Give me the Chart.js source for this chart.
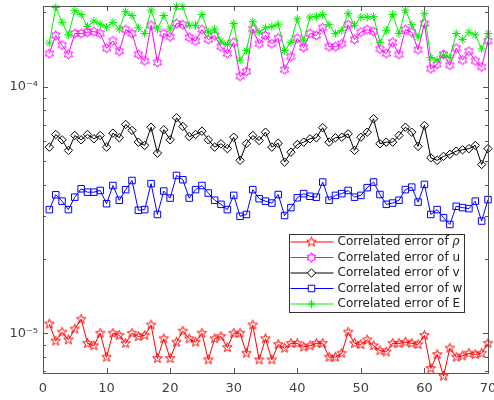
<!DOCTYPE html>
<html>
<head>
<meta charset="utf-8">
<script src="https://cdn.jsdelivr.net/npm/chart.js"></script>
<style>
  html, body { margin: 0; padding: 0; background: #fff; }
  #wrap { width: 494px; height: 400px; }
</style>
</head>
<body>
<div id="wrap"><canvas id="chart" width="494" height="400"></canvas></div>
<script>
// Datos (iteraciones 1..70, escala logarítmica).
const iterations = [1,2,3,4,5,6,7,8,9,10,11,12,13,14,15,16,17,18,19,20,21,22,23,24,25,26,27,28,29,30,
  31,32,33,34,35,36,37,38,39,40,41,42,43,44,45,46,47,48,49,50,51,52,53,54,55,56,57,58,59,60,
  61,62,63,64,65,66,67,68,69,70];

const errRho = [
  1.09e-5, 9.3e-6, 1.01e-5, 9.4e-6, 1.04e-5, 1.14e-5, 9.1e-6, 8.9e-6, 1.00e-5, 8.0e-6,
  1.00e-5, 9.8e-6, 9.1e-6, 1.00e-5, 9.7e-6, 9.8e-6, 1.08e-5, 7.9e-6, 9.5e-6, 7.9e-6,
  9.2e-6, 1.02e-5, 9.5e-6, 9.2e-6, 1.00e-5, 7.8e-6, 9.5e-6, 9.7e-6, 8.75e-6, 1.00e-5,
  1.00e-5, 8.3e-6, 1.08e-5, 7.8e-6, 9.5e-6, 7.8e-6, 9.0e-6, 8.7e-6, 9.1e-6, 9.1e-6,
  8.8e-6, 8.9e-6, 9.1e-6, 9.1e-6, 8.0e-6, 8.0e-6, 8.3e-6, 1.01e-5, 9.1e-6, 9.0e-6,
  9.4e-6, 8.9e-6, 8.5e-6, 8.4e-6, 9.1e-6, 9.1e-6, 9.2e-6, 9.1e-6, 9.0e-6, 9.8e-6,
  7.2e-6, 8.2e-6, 6.7e-6, 8.7e-6, 8.0e-6, 8.1e-6, 8.3e-6, 8.2e-6, 8.3e-6, 9.1e-6
];
const errU = [
  1.36e-4, 1.61e-4, 1.47e-4, 1.35e-4, 1.64e-4, 1.64e-4, 1.66e-4, 1.67e-4, 1.64e-4, 1.43e-4,
  1.53e-4, 1.39e-4, 1.70e-4, 1.64e-4, 1.35e-4, 1.27e-4, 1.77e-4, 1.25e-4, 1.64e-4, 1.59e-4,
  1.80e-4, 1.78e-4, 1.58e-4, 1.53e-4, 1.70e-4, 1.55e-4, 1.61e-4, 1.45e-4, 1.36e-4, 1.51e-4,
  1.10e-4, 1.15e-4, 1.71e-4, 1.49e-4, 1.61e-4, 1.49e-4, 1.57e-4, 1.17e-4, 1.32e-4, 1.57e-4,
  1.44e-4, 1.64e-4, 1.61e-4, 1.73e-4, 1.45e-4, 1.45e-4, 1.49e-4, 1.78e-4, 1.55e-4, 1.66e-4,
  1.70e-4, 1.67e-4, 1.42e-4, 1.36e-4, 1.51e-4, 1.35e-4, 1.70e-4, 1.66e-4, 1.41e-4, 1.80e-4,
  1.18e-4, 1.23e-4, 1.35e-4, 1.22e-4, 1.43e-4, 1.28e-4, 1.39e-4, 1.27e-4, 1.20e-4, 1.53e-4
];
const errV = [
  5.68e-5, 6.39e-5, 6.08e-5, 5.51e-5, 6.33e-5, 6.08e-5, 6.39e-5, 6.14e-5, 6.33e-5, 5.68e-5,
  6.47e-5, 6.20e-5, 7.02e-5, 6.64e-5, 5.95e-5, 5.77e-5, 6.84e-5, 5.37e-5, 6.68e-5, 6.08e-5,
  7.47e-5, 6.89e-5, 6.27e-5, 6.39e-5, 6.59e-5, 6.08e-5, 5.68e-5, 5.86e-5, 5.60e-5, 6.23e-5,
  5.02e-5, 5.87e-5, 6.33e-5, 6.04e-5, 6.53e-5, 5.68e-5, 5.89e-5, 4.94e-5, 5.42e-5, 5.82e-5,
  5.95e-5, 6.14e-5, 6.20e-5, 6.81e-5, 5.95e-5, 6.20e-5, 6.23e-5, 6.43e-5, 5.51e-5, 6.23e-5,
  6.53e-5, 7.40e-5, 5.86e-5, 5.95e-5, 5.95e-5, 6.33e-5, 6.84e-5, 6.53e-5, 5.72e-5, 6.95e-5,
  5.14e-5, 5.02e-5, 5.21e-5, 5.31e-5, 5.47e-5, 5.54e-5, 5.60e-5, 5.77e-5, 4.83e-5, 5.60e-5
];
const errW = [
  3.17e-5, 3.64e-5, 3.43e-5, 3.17e-5, 3.56e-5, 3.85e-5, 3.73e-5, 3.73e-5, 3.79e-5, 3.35e-5,
  3.97e-5, 3.46e-5, 3.82e-5, 4.16e-5, 3.15e-5, 3.17e-5, 4.04e-5, 3.03e-5, 3.77e-5, 3.53e-5,
  4.36e-5, 4.19e-5, 3.53e-5, 3.82e-5, 3.97e-5, 3.70e-5, 3.46e-5, 3.33e-5, 3.17e-5, 3.62e-5,
  2.98e-5, 3.03e-5, 3.82e-5, 3.51e-5, 3.43e-5, 3.37e-5, 3.65e-5, 3.00e-5, 3.23e-5, 3.54e-5,
  3.68e-5, 3.59e-5, 3.56e-5, 4.10e-5, 3.46e-5, 3.62e-5, 3.68e-5, 3.79e-5, 3.56e-5, 3.62e-5,
  3.89e-5, 4.10e-5, 3.65e-5, 3.33e-5, 3.37e-5, 3.46e-5, 3.82e-5, 3.91e-5, 3.40e-5, 4.01e-5,
  3.03e-5, 3.17e-5, 2.94e-5, 2.76e-5, 3.27e-5, 3.23e-5, 3.20e-5, 3.43e-5, 2.85e-5, 3.48e-5
];
const errE = [
  1.50e-4, 2.09e-4, 1.82e-4, 1.62e-4, 2.03e-4, 1.96e-4, 1.75e-4, 1.84e-4, 1.79e-4, 1.74e-4,
  1.82e-4, 1.71e-4, 2.01e-4, 1.94e-4, 1.73e-4, 1.64e-4, 2.04e-4, 1.71e-4, 1.94e-4, 1.71e-4,
  2.11e-4, 2.11e-4, 1.77e-4, 1.77e-4, 1.96e-4, 1.66e-4, 1.71e-4, 1.53e-4, 1.48e-4, 1.80e-4,
  1.28e-4, 1.40e-4, 1.83e-4, 1.66e-4, 1.73e-4, 1.75e-4, 1.79e-4, 1.40e-4, 1.51e-4, 1.88e-4,
  1.53e-4, 1.91e-4, 1.92e-4, 1.96e-4, 1.78e-4, 1.64e-4, 1.69e-4, 1.98e-4, 1.77e-4, 1.91e-4,
  1.91e-4, 1.92e-4, 1.51e-4, 1.69e-4, 1.96e-4, 1.64e-4, 2.04e-4, 1.78e-4, 1.59e-4, 1.98e-4,
  1.31e-4, 1.28e-4, 1.34e-4, 1.31e-4, 1.64e-4, 1.55e-4, 1.66e-4, 1.62e-4, 1.42e-4, 1.64e-4
];

const xTicks = [0, 10, 20, 30, 40, 50, 60, 70];
const yTicks = [7e-6, 8e-6, 9e-6, 1e-5, 2e-5, 3e-5, 4e-5, 5e-5, 6e-5, 7e-5, 8e-5, 9e-5, 1e-4, 2e-4];
const yMajorTicks = [1e-5, 1e-4];
const yTickLabels = ['10\u207B\u2075', '10\u207B\u2074'];
const seriesLabels = ['Correlated error of ', 'Correlated error of u', 'Correlated error of v',
  'Correlated error of w', 'Correlated error of E'];

// Marcadores tipo estrella (pentagrama / hexagrama) dibujados en un canvas pequeño.
function makeStar(points, outer, inner, color) {
  const size = 2 * Math.ceil(outer) + 3;
  const c = document.createElement('canvas');
  c.width = size; c.height = size;
  const g = c.getContext('2d');
  g.strokeStyle = color;
  g.lineWidth = 1;
  g.beginPath();
  for (let k = 0; k < points * 2; k++) {
    const r = k % 2 === 0 ? outer : inner;
    const a = -Math.PI / 2 + k * Math.PI / points;
    const px = size / 2 + r * Math.cos(a);
    const py = size / 2 + r * Math.sin(a);
    if (k === 0) g.moveTo(px, py); else g.lineTo(px, py);
  }
  g.closePath();
  g.stroke();
  return c;
}
const pentagram = makeStar(5, 5, 2.1, '#ff0000');
const hexagram = makeStar(6, 4.8, 2.8, '#ff00ff');

function toPoints(values) {
  return values.map((v, k) => ({ x: iterations[k], y: v }));
}

function series(label, values, color, style, radius, order) {
  return {
    label: label,
    data: toPoints(values),
    borderColor: color,
    borderWidth: 1,
    pointStyle: style,
    pointRadius: radius,
    pointBorderColor: color,
    pointBackgroundColor: 'rgba(0,0,0,0)',
    pointBorderWidth: 1,
    tension: 0,
    clip: false,
    order: order
  };
}

// Marco, marcas hacia dentro y leyenda dentro del área del gráfico.
const framePlugin = {
  id: 'frame',
  afterDatasetsDraw(chart) {
    const ctx = chart.ctx;
    const a = chart.chartArea;
    const xs = chart.scales.x;
    const ys = chart.scales.y;
    ctx.save();
    ctx.strokeStyle = '#555';
    ctx.lineWidth = 1;
    ctx.beginPath();
    xTicks.forEach(t => {
      const px = Math.round(xs.getPixelForValue(t)) + 0.5;
      ctx.moveTo(px, a.bottom); ctx.lineTo(px, a.bottom - 5);
      ctx.moveTo(px, a.top); ctx.lineTo(px, a.top + 5);
    });
    yTicks.forEach(t => {
      const py = Math.round(ys.getPixelForValue(t)) + 0.5;
      const len = yMajorTicks.includes(t) ? 5 : 3;
      ctx.moveTo(a.left, py); ctx.lineTo(a.left + len, py);
      ctx.moveTo(a.right, py); ctx.lineTo(a.right - len, py);
    });
    ctx.stroke();
    ctx.strokeRect(Math.round(a.left) + 0.5, Math.round(a.top) + 0.5,
      Math.round(a.right - a.left), Math.round(a.bottom - a.top));

    // Leyenda
    const lx = 289.5, ly = 234.5, lw = 175, lh = 78, rowH = 15.5;
    ctx.fillStyle = '#fff';
    ctx.fillRect(lx, ly, lw, lh);
    ctx.strokeStyle = '#333';
    ctx.strokeRect(lx, ly, lw, lh);
    ctx.font = '12px "DejaVu Sans"';
    ctx.textBaseline = 'middle';
    ctx.textAlign = 'left';
    seriesLabels.forEach((text, k) => {
      const ds = chart.data.datasets.find(d => d.label === text);
      const cy = ly + 7.5 + k * rowH;
      ctx.strokeStyle = ds.borderColor;
      ctx.beginPath();
      ctx.moveTo(lx + 1, cy); ctx.lineTo(lx + 44, cy);
      ctx.stroke();
      const mx = lx + 22;
      const r = ds.pointRadius;
      ctx.beginPath();
      if (ds.pointStyle instanceof HTMLCanvasElement) {
        ctx.fillStyle = '#fff';
        ctx.fillRect(mx - 3, cy - 1, 6, 2);
        ctx.drawImage(ds.pointStyle, mx - ds.pointStyle.width / 2, cy - ds.pointStyle.height / 2);
      } else if (ds.pointStyle === 'rectRot') {
        ctx.fillStyle = '#fff';
        ctx.moveTo(mx, cy - r); ctx.lineTo(mx + r, cy); ctx.lineTo(mx, cy + r); ctx.lineTo(mx - r, cy);
        ctx.closePath(); ctx.fill(); ctx.stroke();
      } else if (ds.pointStyle === 'rect') {
        const s = r * Math.SQRT1_2;
        ctx.fillStyle = '#fff';
        ctx.rect(mx - s, cy - s, 2 * s, 2 * s);
        ctx.fill(); ctx.stroke();
      } else {
        for (let j = 0; j < 4; j++) {
          const ang = j * Math.PI / 4;
          ctx.moveTo(mx - r * Math.cos(ang), cy - r * Math.sin(ang));
          ctx.lineTo(mx + r * Math.cos(ang), cy + r * Math.sin(ang));
        }
        ctx.stroke();
      }
      ctx.fillStyle = '#222';
      ctx.font = '12px "DejaVu Sans"';
      ctx.fillText(text, lx + 48, cy);
      if (k === 0) {
        const w = ctx.measureText(text).width;
        ctx.font = 'italic 12px "DejaVu Serif"';
        ctx.fillText('\u03C1', lx + 48 + w, cy);
      }
    });
    ctx.restore();
  }
};

const ctx = document.getElementById('chart').getContext('2d');
const chart = new Chart(ctx, {
  type: 'line',
  data: {
    datasets: [
      series(seriesLabels[0], errRho, '#ff0000', pentagram, 5, 5),
      series(seriesLabels[1], errU, '#ff00ff', hexagram, 5, 4),
      series(seriesLabels[2], errV, '#000000', 'rectRot', 4.2, 3),
      series(seriesLabels[3], errW, '#0000ff', 'rect', 4.6, 2),
      series(seriesLabels[4], errE, '#00ee00', 'star', 4.2, 1)
    ]
  },
  options: {
    responsive: false,
    animation: false,
    layout: { padding: { left: 0, right: 5, top: 6, bottom: 0 } },
    plugins: {
      legend: { display: false },
      tooltip: { enabled: false }
    },
    scales: {
      x: {
        type: 'linear',
        min: 0,
        max: 70,
        grid: { display: false, drawTicks: false },
        border: { display: false },
        afterBuildTicks: s => { s.ticks = xTicks.map(v => ({ value: v })); },
        afterFit: s => { s.height = 27; s.paddingLeft = 0; s.paddingRight = 0; },
        ticks: {
          autoSkip: false,
          maxRotation: 0,
          padding: 8,
          color: '#404040',
          font: { family: 'DejaVu Sans', size: 13 },
          callback: v => String(v)
        }
      },
      y: {
        type: 'logarithmic',
        min: 6.9e-6,
        max: 2.12e-4,
        grid: { display: false, drawTicks: false },
        border: { display: false },
        afterBuildTicks: s => { s.ticks = yTicks.map(v => ({ value: v })); },
        afterFit: s => { s.width = 43; s.paddingTop = 0; s.paddingBottom = 0; },
        ticks: {
          autoSkip: false,
          padding: 5,
          color: '#404040',
          font: { family: 'DejaVu Sans', size: 13 },
          callback: v => {
            const k = yMajorTicks.findIndex(m => Math.abs(m - v) / m < 1e-6);
            return k >= 0 ? yTickLabels[k] : '';
          }
        }
      }
    }
  },
  plugins: [framePlugin]
});
</script>
</body>
</html>
